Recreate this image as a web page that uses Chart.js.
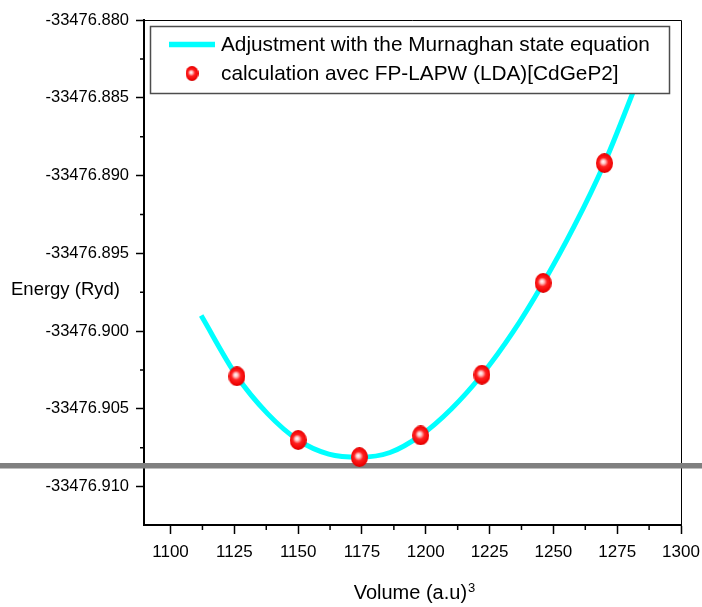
<!DOCTYPE html>
<html>
<head>
<meta charset="utf-8">
<title>CdGeP2 - E(V)</title>
<script src="https://cdn.jsdelivr.net/npm/chart.js@4.4.1/dist/chart.umd.min.js"></script>
<style>
  body { margin: 0; background: #fff; }
  #wrap { width: 702px; height: 607px; }
</style>
</head>
<body>
<div id="wrap"><canvas id="evChart" width="702" height="607"></canvas></div>
<script>
// FP-LAPW (LDA) total energies for CdGeP2
const volumes = [1126, 1150, 1174, 1198, 1222, 1246, 1270];
const energies = [-33476.9029, -33476.9070, -33476.9081, -33476.9067, -33476.9028, -33476.8969, -33476.8892];

// Murnaghan fit curve, sampled along the plot
const fitVolumes = [1112, 1126, 1138, 1150, 1162, 1174, 1186, 1198, 1210, 1222, 1234, 1246, 1258, 1270, 1282, 1290];
const fitEnergies = [-33476.8990, -33476.9029, -33476.9053, -33476.9070, -33476.9079, -33476.9081, -33476.9078, -33476.9067,
  -33476.9050, -33476.9028, -33476.9001, -33476.8969, -33476.8933, -33476.8892, -33476.8843, -33476.8808];

const volumeTicks = [1100, 1125, 1150, 1175, 1200, 1225, 1250, 1275, 1300];
const energyTicks = [-33476.910, -33476.905, -33476.900, -33476.895, -33476.890, -33476.885, -33476.880];
const refEnergy = -33476.90865; // horizontal reference line

const fitLabel = "Adjustment with the Murnaghan state equation";
const calcLabel = "calculation avec FP-LAPW (LDA)[CdGeP2]";

const FONT = "'Liberation Sans', Arial, sans-serif";

// shaded red ball used as the point marker
function makeSphere(w, h) {
  const c = document.createElement("canvas");
  c.width = w;
  c.height = h;
  const g = c.getContext("2d");
  const grad = g.createRadialGradient(w * 0.42, h * 0.42, 0, w * 0.5, h * 0.5, Math.max(w, h) * 0.55);
  grad.addColorStop(0, "#ffffff");
  grad.addColorStop(0.18, "#ffc4c4");
  grad.addColorStop(0.42, "#ff2020");
  grad.addColorStop(0.8, "#ee0000");
  grad.addColorStop(1, "#b00000");
  g.fillStyle = grad;
  g.beginPath();
  g.ellipse(w / 2, h / 2, w / 2, h / 2, 0, 0, Math.PI * 2);
  g.fill();
  return c;
}
const sphere = makeSphere(17, 20);
const legendSphere = makeSphere(13, 15);

function midpoints(arr) {
  const out = [];
  for (let i = 0; i < arr.length - 1; i++) out.push((arr[i] + arr[i + 1]) / 2);
  return out;
}

const framePlugin = {
  id: "frame",
  beforeDatasetsDraw(chart) {
    const { ctx, chartArea: a, scales } = chart;
    ctx.save();
    // top and right frame
    ctx.strokeStyle = "#000";
    ctx.lineWidth = 1;
    ctx.beginPath();
    ctx.moveTo(a.left, a.top + 0.5);
    ctx.lineTo(a.right + 0.5, a.top + 0.5);
    ctx.lineTo(a.right + 0.5, a.bottom);
    ctx.stroke();

    // minor ticks
    ctx.lineWidth = 1.5;
    ctx.beginPath();
    midpoints(volumeTicks).forEach(v => {
      const x = scales.x.getPixelForValue(v);
      ctx.moveTo(x, a.bottom);
      ctx.lineTo(x, a.bottom + 5);
    });
    midpoints(energyTicks).forEach(v => {
      const y = scales.y.getPixelForValue(v);
      ctx.moveTo(a.left, y);
      ctx.lineTo(a.left - 4, y);
    });
    ctx.stroke();

    // grey reference line across the whole figure
    const yRef = scales.y.getPixelForValue(refEnergy);
    ctx.strokeStyle = "#808080";
    ctx.lineWidth = 5.5;
    ctx.beginPath();
    ctx.moveTo(0, yRef);
    ctx.lineTo(chart.width, yRef);
    ctx.stroke();
    ctx.restore();
  },
  afterDraw(chart) {
    const { ctx } = chart;
    ctx.save();
    ctx.fillStyle = "#000";

    // y title, horizontal
    ctx.font = "18.5px " + FONT;
    ctx.textAlign = "left";
    ctx.textBaseline = "middle";
    ctx.fillText("Energy (Ryd)", 11, 290);

    // x title with superscript
    ctx.font = "20px " + FONT;
    ctx.textBaseline = "alphabetic";
    const main = "Volume (a.u)";
    const wMain = ctx.measureText(main).width;
    ctx.font = "13px " + FONT;
    const wSup = ctx.measureText("3").width;
    const x0 = 414 - (wMain + wSup) / 2;
    ctx.font = "20px " + FONT;
    ctx.fillText(main, x0, 599);
    ctx.font = "13px " + FONT;
    ctx.fillText("3", x0 + wMain + 1, 592);

    // legend box
    ctx.fillStyle = "#fff";
    ctx.fillRect(150, 26, 520, 68);
    ctx.strokeStyle = "#4d4d4d";
    ctx.lineWidth = 1.5;
    ctx.strokeRect(150.5, 26.5, 519, 67);

    ctx.strokeStyle = "#00ffff";
    ctx.lineWidth = 5.5;
    ctx.beginPath();
    ctx.moveTo(169, 44.5);
    ctx.lineTo(215, 44.5);
    ctx.stroke();
    ctx.drawImage(legendSphere, 192 - 6.5, 73.5 - 7.5);

    ctx.fillStyle = "#000";
    ctx.font = "20.8px " + FONT;
    ctx.textBaseline = "middle";
    ctx.fillText(fitLabel, 221, 45);
    ctx.fillText(calcLabel, 221, 74);
    ctx.restore();
  }
};

const ctx = document.getElementById("evChart").getContext("2d");
new Chart(ctx, {
  type: "scatter",
  data: {
    datasets: [
      {
        label: calcLabel,
        data: volumes.map((v, i) => ({ x: v, y: energies[i] })),
        pointStyle: sphere,
        pointRadius: 9,
        order: 0
      },
      {
        label: fitLabel,
        data: fitVolumes.map((v, i) => ({ x: v, y: fitEnergies[i] })),
        showLine: true,
        borderColor: "#00ffff",
        borderWidth: 5,
        pointRadius: 0,
        cubicInterpolationMode: "monotone",
        clip: 0,
        order: 1
      }
    ]
  },
  options: {
    responsive: false,
    animation: false,
    layout: { padding: { top: 20, right: 21, left: 0, bottom: 0 } },
    plugins: {
      legend: { display: false },
      tooltip: { enabled: false }
    },
    scales: {
      x: {
        type: "linear",
        min: 1089.6,
        max: 1300,
        afterBuildTicks: s => { s.ticks = volumeTicks.map(v => ({ value: v })); },
        afterFit: s => {
          s.height = 82;
          s.paddingLeft = 0;
          s.paddingRight = 0;
        },
        ticks: {
          color: "#000",
          padding: 8,
          maxRotation: 0,
          font: { family: FONT, size: 17 },
          callback: v => String(v)
        },
        grid: { drawOnChartArea: false, tickLength: 9, tickColor: "#000", tickWidth: 1.5 },
        border: { display: true, color: "#000", width: 2 }
      },
      y: {
        type: "linear",
        min: -33476.91246,
        max: -33476.880,
        afterBuildTicks: s => { s.ticks = energyTicks.map(v => ({ value: v })); },
        afterFit: s => {
          s.width = 144;
          s.paddingTop = 0;
          s.paddingBottom = 0;
        },
        ticks: {
          color: "#000",
          padding: 7,
          font: { family: FONT, size: 16.5 },
          callback: v => v.toFixed(3)
        },
        grid: { drawOnChartArea: false, tickLength: 8, tickColor: "#000", tickWidth: 1.5 },
        border: { display: true, color: "#000", width: 2 }
      }
    }
  },
  plugins: [framePlugin]
});
</script>
</body>
</html>
